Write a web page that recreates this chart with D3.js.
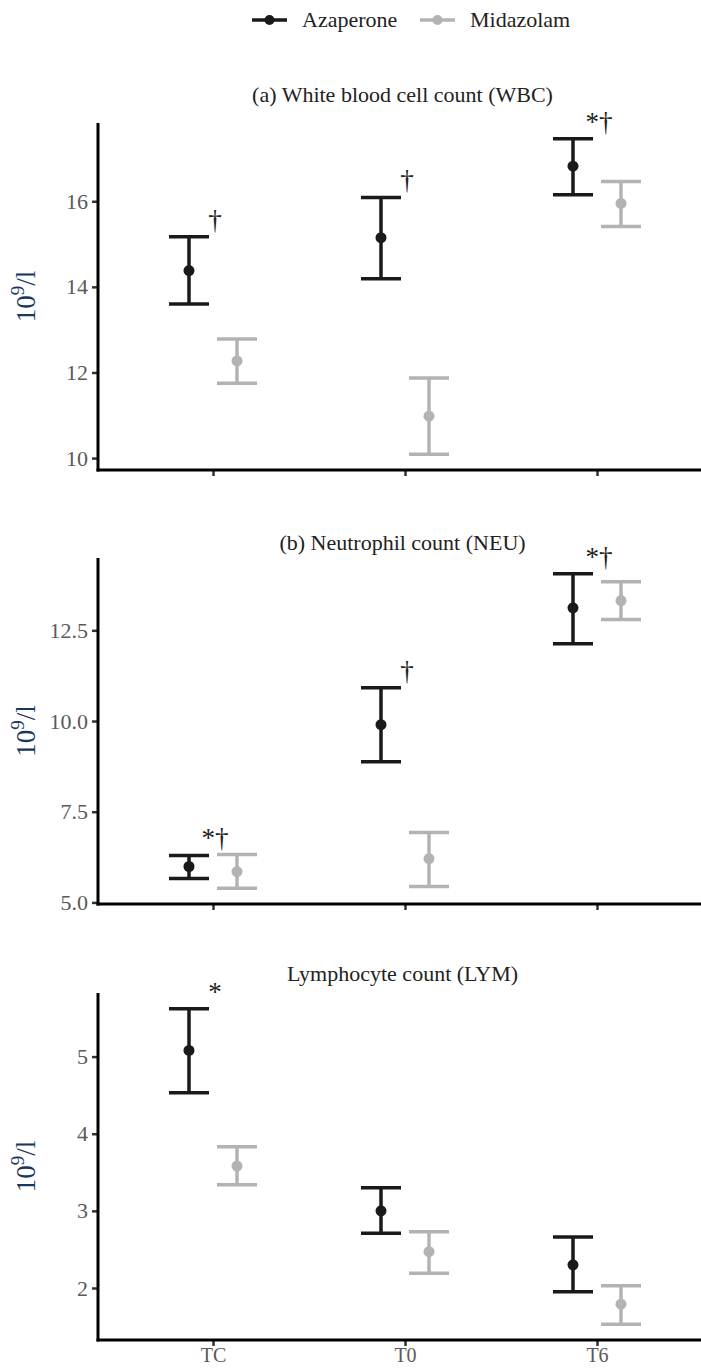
<!DOCTYPE html>
<html>
<head>
<meta charset="utf-8">
<script src="https://cdn.jsdelivr.net/npm/d3@7"></script>
<style>
    body { margin: 0; background: #fff; }
    svg { display: block; }
    svg text { font-family: "Liberation Serif", "DejaVu Serif", serif; }
</style>
</head>
<body>
<svg id="chart" width="701" height="1371"></svg>
<script>
// categories
const timePoints = ["TC", "T0", "T6"];
const groupNames = ["Azaperone", "Midazolam"];
const groupColors = ["#1a1a1a", "#b3b3b3"];

// (a) WBC
const wbcAzaMean = [14.38, 15.15, 16.82];
const wbcAzaLow = [13.60, 14.19, 16.15];
const wbcAzaHigh = [15.17, 16.09, 17.46];
const wbcMidMean = [12.27, 10.98, 15.95];
const wbcMidLow = [11.75, 10.09, 15.41];
const wbcMidHigh = [12.78, 11.87, 16.46];
const wbcTicks = [10, 12, 14, 16];
const wbcMarks = ["†", "†", "*†"];

// (b) NEU
const neuAzaMean = [5.99, 9.90, 13.12];
const neuAzaLow = [5.66, 8.88, 12.13];
const neuAzaHigh = [6.29, 10.92, 14.06];
const neuMidMean = [5.85, 6.21, 13.32];
const neuMidLow = [5.39, 5.44, 12.80];
const neuMidHigh = [6.32, 6.93, 13.84];
const neuTicks = [5.0, 7.5, 10.0, 12.5];
const neuMarks = ["*†", "†", "*†"];

// LYM
const lymAzaMean = [5.08, 3.00, 2.30];
const lymAzaLow = [4.53, 2.71, 1.95];
const lymAzaHigh = [5.62, 3.30, 2.66];
const lymMidMean = [3.58, 2.47, 1.79];
const lymMidLow = [3.34, 2.19, 1.53];
const lymMidHigh = [3.83, 2.73, 2.03];
const lymTicks = [2, 3, 4, 5];
const lymMarks = ["*", "", ""];

const panelTitles = [
    "(a) White blood cell count (WBC)",
    "(b) Neutrophil count (NEU)",
    "Lymphocyte count (LYM)",
];

function makeRows(means, lows, highs) {
    return timePoints.map((t, i) => ({ time: t, mean: means[i], low: lows[i], high: highs[i] }));
}

const panels = [
    {
        title: panelTitles[0], top: 123, bottom: 470, titleY: 102,
        series: [makeRows(wbcAzaMean, wbcAzaLow, wbcAzaHigh), makeRows(wbcMidMean, wbcMidLow, wbcMidHigh)],
        ticks: wbcTicks, tickFmt: d3.format("d"), marks: wbcMarks, xLabels: false,
    },
    {
        title: panelTitles[1], top: 558, bottom: 904, titleY: 550,
        series: [makeRows(neuAzaMean, neuAzaLow, neuAzaHigh), makeRows(neuMidMean, neuMidLow, neuMidHigh)],
        ticks: neuTicks, tickFmt: d3.format(".1f"), marks: neuMarks, xLabels: false,
    },
    {
        title: panelTitles[2], top: 993, bottom: 1340, titleY: 981,
        series: [makeRows(lymAzaMean, lymAzaLow, lymAzaHigh), makeRows(lymMidMean, lymMidLow, lymMidHigh)],
        ticks: lymTicks, tickFmt: d3.format("d"), marks: lymMarks, xLabels: true,
    },
];

const svg = d3.select("#chart");
const axisLeft = 98, axisRight = 701;
const dodge = 24, capHalf = 20;

const x = d3.scalePoint().domain(timePoints).range([213, 597]);

panels.forEach((p) => {
    const all = p.series.flat();
    const lo = d3.min(all, (d) => d.low), hi = d3.max(all, (d) => d.high);
    const pad = (hi - lo) * 0.05;
    const y = d3.scaleLinear().domain([lo - pad, hi + pad]).range([p.bottom, p.top]);

    const g = svg.append("g");

    // title
    g.append("text")
        .attr("x", (axisLeft + axisRight) / 2 + 3)
        .attr("y", p.titleY)
        .attr("text-anchor", "middle")
        .attr("font-size", 22)
        .attr("fill", "#222")
        .text(p.title);

    // y axis
    const ya = g.append("g")
        .attr("transform", `translate(${axisLeft},0)`)
        .call(d3.axisLeft(y).tickValues(p.ticks).tickFormat(p.tickFmt).tickSize(6).tickPadding(4));
    ya.select(".domain").remove();
    ya.selectAll(".tick line").attr("stroke", "#333").attr("stroke-width", 2.5);
    ya.selectAll(".tick text").attr("font-size", 22).attr("fill", "#5a5a5a");
    g.append("line")
        .attr("x1", axisLeft).attr("x2", axisLeft)
        .attr("y1", p.top).attr("y2", p.bottom + 1.5)
        .attr("stroke", "#000").attr("stroke-width", 3);

    // x axis
    const xa = g.append("g")
        .attr("transform", `translate(0,${p.bottom})`)
        .call(d3.axisBottom(x).tickSize(6).tickPadding(2));
    xa.select(".domain").remove();
    xa.selectAll(".tick line").attr("stroke", "#333").attr("stroke-width", 2.5);
    xa.selectAll(".tick text").attr("font-size", 20).attr("fill", "#5a5a5a")
        .style("display", p.xLabels ? null : "none");
    g.append("line")
        .attr("x1", axisLeft - 1.5).attr("x2", axisRight)
        .attr("y1", p.bottom).attr("y2", p.bottom)
        .attr("stroke", "#000").attr("stroke-width", 3);

    // y label
    const yl = g.append("text")
        .attr("transform", `translate(35,${(p.top + p.bottom) / 2}) rotate(-90)`)
        .attr("text-anchor", "middle")
        .attr("font-size", 27)
        .attr("fill", "#17375e");
    yl.append("tspan").text("10");
    yl.append("tspan").attr("font-size", 19).attr("dy", -11).text("9");
    yl.append("tspan").attr("dy", 11).text("/l");

    // error bars + points
    p.series.forEach((rows, si) => {
        const off = si === 0 ? -dodge : dodge;
        const col = groupColors[si];
        const bars = g.append("g").selectAll("g").data(rows).join("g")
            .attr("transform", (d) => `translate(${x(d.time) + off},0)`);
        bars.append("line")
            .attr("y1", (d) => y(d.low)).attr("y2", (d) => y(d.high))
            .attr("stroke", col).attr("stroke-width", 3.5);
        bars.append("line")
            .attr("x1", -capHalf).attr("x2", capHalf)
            .attr("y1", (d) => y(d.high)).attr("y2", (d) => y(d.high))
            .attr("stroke", col).attr("stroke-width", 3.5);
        bars.append("line")
            .attr("x1", -capHalf).attr("x2", capHalf)
            .attr("y1", (d) => y(d.low)).attr("y2", (d) => y(d.low))
            .attr("stroke", col).attr("stroke-width", 3.5);
        bars.append("circle")
            .attr("cy", (d) => y(d.mean)).attr("r", 5.5)
            .attr("fill", col);
    });

    // significance marks, above the highest cap of each time point
    const aza = p.series[0];
    g.append("g").selectAll("text").data(p.marks).join("text")
        .attr("x", (d, i) => x(timePoints[i]) + 2)
        .attr("y", (d, i) => y(Math.max(aza[i].high, p.series[1][i].high)) - 8)
        .attr("text-anchor", "middle")
        .attr("font-size", 27)
        .attr("fill", "#222")
        .text((d) => d);
});

// legend
const legend = svg.append("g").attr("transform", "translate(0,20)");
const legendItems = [
    { name: groupNames[0], x: 252 },
    { name: groupNames[1], x: 420 },
];
legendItems.forEach((it, i) => {
    legend.append("line")
        .attr("x1", it.x).attr("x2", it.x + 35)
        .attr("stroke", groupColors[i]).attr("stroke-width", 3.5);
    legend.append("circle")
        .attr("cx", it.x + 17.5).attr("r", 5)
        .attr("fill", groupColors[i]);
    legend.append("text")
        .attr("x", it.x + 50).attr("y", 7)
        .attr("font-size", 22)
        .attr("fill", "#222")
        .text(it.name);
});
</script>
</body>
</html>
